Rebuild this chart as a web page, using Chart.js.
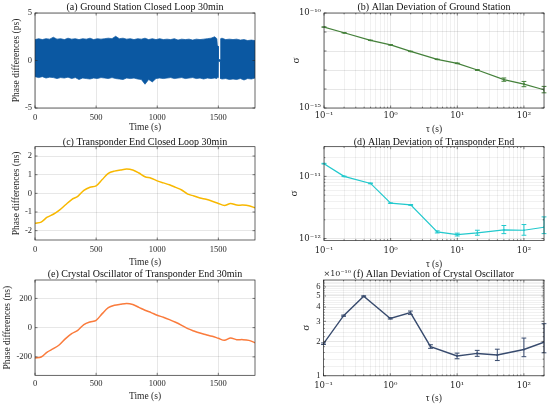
<!DOCTYPE html>
<html><head><meta charset="utf-8">
<script src="https://cdn.jsdelivr.net/npm/chart.js@4.4.1/dist/chart.umd.min.js"></script>
<style>
html,body{margin:0;padding:0;background:#fff;}
#wrap{position:relative;width:550px;height:408px;overflow:hidden;background:#fff;}
#wrap canvas{position:absolute;left:0;top:0;}
</style></head><body>
<div id="wrap">
<canvas id="pa" width="550" height="408"></canvas>
<canvas id="pb" width="550" height="408"></canvas>
<canvas id="pc" width="550" height="408"></canvas>
<canvas id="pd" width="550" height="408"></canvas>
<canvas id="pe" width="550" height="408"></canvas>
<canvas id="pf" width="550" height="408"></canvas>
</div>
<script>
// ---------- data ----------
// (a) ground station phase difference, noise band envelope (ps)
const aTime  = [0,30,60,90,120,150,180,210,240,270,300,330,360,390,420,450,480,510,540,570,600,630,660,690,720,750,780,810,840,870,900,930,960,990,1020,1050,1080,1110,1140,1170,1200,1230,1260,1290,1320,1350,1380,1410,1440,1470,1488,1492,1499,1501,1517,1519,1530,1560,1590,1620,1650,1680,1710,1740,1770,1800];
const aUpper = [2.2,2.3,2.2,2.3,2.25,2.45,2.25,2.3,2.2,2.35,2.25,2.3,2.2,2.3,2.25,2.35,2.2,2.3,2.25,2.3,2.35,2.3,2.55,2.3,2.35,2.25,2.3,2.2,2.3,2.25,2.35,2.2,2.3,2.2,2.3,2.2,2.25,2.2,2.3,2.15,2.25,2.2,2.25,2.15,2.25,2.2,2.25,2.3,2.35,2.5,2.3,1.6,1.5,0.1,0.1,2.3,2.35,2.2,2.25,2.2,2.25,2.15,2.2,2.1,2.15,2.1];
const aLower = [-1.7,-1.8,-1.7,-1.85,-1.75,-1.8,-1.9,-1.8,-1.85,-1.75,-1.9,-1.8,-2.0,-1.85,-1.9,-1.95,-1.85,-1.9,-1.8,-1.85,-1.9,-1.8,-1.9,-1.95,-2.0,-1.85,-1.9,-1.85,-1.95,-2.0,-2.5,-2.0,-2.25,-1.9,-1.85,-1.9,-1.85,-1.8,-1.9,-1.85,-1.8,-1.9,-1.85,-1.8,-1.9,-1.85,-1.95,-1.85,-1.9,-1.85,-1.9,-1.8,-1.8,-0.1,-0.1,-1.9,-1.95,-1.9,-2.0,-1.95,-2.0,-1.9,-2.05,-1.9,-1.95,-1.85];

// (c) transponder end (ns) and (e) crystal oscillator (ns)
const ceTime  = [0,50,100,150,200,250,300,350,400,450,500,550,600,650,700,750,800,850,900,950,1000,1050,1100,1150,1200,1250,1300,1350,1400,1450,1500,1550,1600,1650,1700,1750,1800];
const cValues = [-1.60,-1.54,-1.28,-1.12,-0.90,-0.61,-0.33,-0.16,0.16,0.33,0.40,0.74,1.07,1.19,1.25,1.30,1.25,1.09,0.89,0.81,0.67,0.56,0.46,0.32,0.18,-0.04,-0.14,-0.25,-0.32,-0.42,-0.54,-0.65,-0.54,-0.63,-0.63,-0.67,-0.77];
const eValues = [-208,-201,-167,-144,-117,-75,-41,-18,21,39,50,96,137,153,160,165,158,139,119,103,85,71,55,37,16,-7,-23,-37,-48,-59,-73,-87,-71,-82,-82,-87,-103];

// (b) Allan deviation ground station
const bTau   = [0.1,0.2,0.5,1,2,5,10,20,50,100,200];
const bSigma = [1.82e-11,9.1e-12,3.63e-12,2.09e-12,9.5e-13,3.63e-13,2.24e-13,1.0e-13,3.1e-14,1.82e-14,9.1e-15];
const bLow   = [1.78e-11,8.9e-12,3.56e-12,2.05e-12,9.3e-13,3.55e-13,2.17e-13,9.5e-14,2.55e-14,1.32e-14,6.3e-15];
const bHigh  = [1.86e-11,9.3e-12,3.70e-12,2.13e-12,9.7e-13,3.71e-13,2.31e-13,1.05e-13,3.8e-14,2.5e-14,1.37e-14];

// (d) Allan deviation transponder end
const dTau   = [0.1,0.2,0.5,1,2,5,10,20,50,100,200];
const dSigma = [1.6e-11,1.0e-11,7.7e-12,3.7e-12,3.47e-12,1.28e-12,1.16e-12,1.23e-12,1.38e-12,1.36e-12,1.52e-12];
const dLow   = [1.58e-11,0.99e-11,7.6e-12,3.66e-12,3.42e-12,1.23e-12,1.10e-12,1.13e-12,1.20e-12,1.13e-12,1.20e-12];
const dHigh  = [1.62e-11,1.01e-11,7.8e-12,3.74e-12,3.52e-12,1.33e-12,1.22e-12,1.36e-12,1.62e-12,1.68e-12,2.23e-12];

// (f) Allan deviation crystal oscillator (x1e-10)
const fTau   = [0.1,0.2,0.4,1,2,4,10,20,40,100,200];
const fSigma = [1.91,3.36,4.97,3.18,3.57,1.80,1.49,1.57,1.52,1.70,1.97];
const fLow   = [1.88,3.32,4.92,3.14,3.45,1.74,1.41,1.48,1.36,1.47,1.59];
const fHigh  = [1.94,3.40,5.02,3.22,3.69,1.87,1.58,1.67,1.71,2.14,2.86];

// ticks
const timeTicks = [0,500,1000,1500];
const aYTicks = [-5,0,5];
const cYTicks = [-2,-1,0,1,2];
const eYTicks = [-200,0,200];
const logXMajor = [0.1,1,10,100];
const logXMajorLabels = ['10\u207B\u00B9','10\u2070','10\u00B9','10\u00B2'];
const bYMajor = [1e-15,1e-14,1e-13,1e-12,1e-11,1e-10];
const bYLabels = ['10\u207B\u00B9\u2075','','','','','10\u207B\u00B9\u2070'];
const dYMajor = [1e-12,1e-11];
const dYLabels = ['10\u207B\u00B9\u00B2','10\u207B\u00B9\u00B9'];
const fYMajor = [1,2,3,4,5,6];
const fYLabels = ['1','2','3','4','5','6'];

// ---------- helpers ----------
const FONT = "'Liberation Serif','Times New Roman',serif";
const SUPFONT = "'DejaVu Serif','Liberation Serif',serif";
Chart.defaults.font.family = FONT;
Chart.defaults.color = '#262626';
const W = 550, H = 408;
const GRID_MAJOR = 'rgba(38,38,38,0.16)';
const GRID_MINOR = 'rgba(38,38,38,0.09)';
const meta = {};

function near(a,b){ return Math.abs(a-b) <= 1e-6*Math.max(Math.abs(a),Math.abs(b),1e-300); }
function logTicksFrom(majors, lo, hi){
  const out = [];
  majors.concat([majors[majors.length-1]*10]).forEach(m=>{
    for(let k=1;k<10;k++){ const v=m*k; if(v>=lo*0.999 && v<=hi*1.001) out.push(v); }
  });
  return out;
}
function labelFor(majors, labels){
  return v => { for(let i=0;i<majors.length;i++){ if(near(v,majors[i])) return labels[i]; } return ''; };
}

const deco = {
  id:'deco',
  afterDraw(chart){
    const m = meta[chart.canvas.id];
    const {ctx, chartArea:a} = chart;
    const xs = chart.scales.x, ys = chart.scales.y;
    ctx.save();
    ctx.strokeStyle = '#262626'; ctx.lineWidth = 0.6;
    ctx.beginPath();
    xs.ticks.forEach(t=>{
      const p = xs.getPixelForValue(t.value); if(p<a.left-0.5||p>a.right+0.5) return;
      const L = m.xMajor(t.value) ? 2.5 : 1.3;
      ctx.moveTo(p,a.bottom); ctx.lineTo(p,a.bottom-L);
      ctx.moveTo(p,a.top); ctx.lineTo(p,a.top+L);
    });
    ys.ticks.forEach(t=>{
      const p = ys.getPixelForValue(t.value); if(p<a.top-0.5||p>a.bottom+0.5) return;
      const L = m.yMajor(t.value) ? 2.5 : 1.3;
      ctx.moveTo(a.left,p); ctx.lineTo(a.left+L,p);
      ctx.moveTo(a.right,p); ctx.lineTo(a.right-L,p);
    });
    ctx.stroke();
    ctx.lineWidth = 0.7;
    ctx.strokeRect(a.left, a.top, a.right-a.left, a.bottom-a.top);
    ctx.fillStyle = '#111';
    ctx.font = '10px ' + FONT;
    ctx.textAlign = 'center'; ctx.textBaseline = 'middle';
    ctx.fillText(m.title, (a.left+a.right)/2, m.titleY);
    if(m.extra){
      ctx.font = '8px ' + SUPFONT; ctx.textAlign = 'left'; ctx.fillStyle = '#262626';
      ctx.fillText(m.extra, a.left, m.titleY);
    }
    ctx.restore();
  }
};

const errorBars = {
  id:'errorBars',
  afterDatasetsDraw(chart){
    const {ctx} = chart; const xs = chart.scales.x, ys = chart.scales.y;
    chart.data.datasets.forEach(ds=>{
      if(!ds.errLow) return;
      ctx.save(); ctx.strokeStyle = ds.borderColor; ctx.lineWidth = 1;
      ctx.beginPath();
      ds.data.forEach((p,j)=>{
        const px = xs.getPixelForValue(p.x);
        const y1 = ys.getPixelForValue(ds.errLow[j]), y2 = ys.getPixelForValue(ds.errHigh[j]);
        const cap = 2.4;
        ctx.moveTo(px,y1); ctx.lineTo(px,y2);
        ctx.moveTo(px-cap,y1); ctx.lineTo(px+cap,y1);
        ctx.moveTo(px-cap,y2); ctx.lineTo(px+cap,y2);
      });
      ctx.stroke(); ctx.restore();
    });
  }
};

function pts(xsArr, ysArr){ return xsArr.map((x,i)=>({x:x, y:ysArr[i]})); }

function panel(id, c){
  meta[id] = {title:c.title, titleY:c.titleY, extra:c.extra, xMajor:c.xMajor, yMajor:c.yMajor};
  const b = c.box;
  const xFont = c.xType === 'logarithmic' ? {size:8.5, family:SUPFONT} : {size:8.5};
  const yFont = c.yType === 'logarithmic' && c.yLogLabels ? {size:8.5, family:SUPFONT} : {size:8.5};
  new Chart(document.getElementById(id), {
    type:'line',
    data:{datasets:c.datasets},
    options:{
      responsive:false, animation:false, events:[],
      layout:{padding:{left:0, top:b.T, right:W-b.R, bottom:0}},
      plugins:{legend:{display:false}, tooltip:{enabled:false}},
      elements:{point:{radius:0}},
      scales:{
        x:{
          type:c.xType, min:c.xMin, max:c.xMax,
          afterFit:s=>{ s.height = H - b.B; },
          afterBuildTicks:s=>{ s.ticks = c.xTicks.map(v=>({value:v})); },
          ticks:{autoSkip:false, maxRotation:0, minRotation:0, padding:c.xPad, font:xFont, color:'#262626', callback:c.xLabel},
          grid:{drawTicks:false, lineWidth:0.7, color:ctx=>(ctx.tick && c.xMajor(ctx.tick.value)) ? GRID_MAJOR : GRID_MINOR},
          border:{display:false},
          title:{display:true, text:c.xTitle, font:{size:9.5, lineHeight:1.2}, color:'#262626', padding:{top:0, bottom:H - c.xTitleY - 5.7}}
        },
        y:{
          type:c.yType, min:c.yMin, max:c.yMax,
          afterFit:s=>{ s.width = b.L; },
          afterBuildTicks:s=>{ s.ticks = c.yTicks.map(v=>({value:v})); },
          ticks:{autoSkip:false, padding:3, font:yFont, color:'#262626', callback:c.yLabel},
          grid:{drawTicks:false, lineWidth:0.7, color:ctx=>(ctx.tick && c.yMajor(ctx.tick.value)) ? GRID_MAJOR : GRID_MINOR},
          border:{display:false},
          title:{display:true, text:c.yTitle, font:{size:c.yTitleSize || 9.5, lineHeight:1.2}, color:'#262626', padding:{top:c.yTitleX - (c.yTitleSize || 9.5)*0.6, bottom:0}}
        }
      }
    },
    plugins:[deco, errorBars]
  });
}

const allMajor = () => true;
const decadeMajor = v => { const e = Math.log10(v); return Math.abs(e - Math.round(e)) < 1e-6; };
const intMajor = v => Math.abs(v - Math.round(v)) < 1e-6;
const logXTicks = logTicksFrom(logXMajor, 0.1, 200);

// (a)
panel('pa', {
  title:'(a) Ground Station Closed Loop 30min', titleY:7.5,
  box:{L:35, T:13, R:255, B:108},
  xType:'linear', xMin:0, xMax:1800, xTicks:timeTicks, xLabel:v=>String(v), xMajor:allMajor, xPad:4.5, xTitle:'Time (s)', xTitleY:127.7,
  yType:'linear', yMin:-5, yMax:5, yTicks:aYTicks, yLabel:v=>String(v), yMajor:allMajor, yTitle:'Phase differences (ps)', yTitleX:16,
  datasets:[
    {data:pts(aTime,aUpper), borderColor:'#0b58a2', backgroundColor:'#0b58a2', borderWidth:0.7, fill:'+1', tension:0},
    {data:pts(aTime,aLower), borderColor:'#0b58a2', backgroundColor:'#0b58a2', borderWidth:0.7, fill:false, tension:0}
  ]
});

// (b)
panel('pb', {
  title:'(b) Allan Deviation of Ground Station', titleY:7.5,
  box:{L:324, T:13, R:544, B:108},
  xType:'logarithmic', xMin:0.1, xMax:200, xTicks:logXTicks, xLabel:labelFor(logXMajor, logXMajorLabels), xMajor:decadeMajor, xPad:3, xTitle:'\u03C4 (s)', xTitleY:129,
  yType:'logarithmic', yLogLabels:true, yMin:1e-15, yMax:1e-10, yTicks:bYMajor, yLabel:labelFor(bYMajor, bYLabels), yMajor:decadeMajor, yTitle:'\u03C3', yTitleSize:11, yTitleX:296,
  datasets:[
    {data:pts(bTau,bSigma), errLow:bLow, errHigh:bHigh, borderColor:'#44803a', borderWidth:1.2, fill:false, tension:0, pointRadius:1.2, pointStyle:'rect', pointBackgroundColor:'#44803a', pointBorderWidth:0}
  ]
});

// (c)
panel('pc', {
  title:'(c) Transponder End Closed Loop 30min', titleY:142,
  box:{L:35, T:146.7, R:255, B:240},
  xType:'linear', xMin:0, xMax:1800, xTicks:timeTicks, xLabel:v=>String(v), xMajor:allMajor, xPad:5, xTitle:'Time (s)', xTitleY:262.7,
  yType:'linear', yMin:-2.5, yMax:2.5, yTicks:cYTicks, yLabel:v=>String(v), yMajor:allMajor, yTitle:'Phase differences (ns)', yTitleX:16,
  datasets:[
    {data:pts(ceTime,cValues), borderColor:'#f8b800', borderWidth:1.5, fill:false, tension:0.3}
  ]
});

// (d)
panel('pd', {
  title:'(d) Allan Deviation of Transponder End', titleY:142,
  box:{L:324, T:146.7, R:544, B:240.5},
  xType:'logarithmic', xMin:0.1, xMax:200, xTicks:logXTicks, xLabel:labelFor(logXMajor, logXMajorLabels), xMajor:decadeMajor, xPad:5, xTitle:'\u03C4 (s)', xTitleY:264.3,
  yType:'logarithmic', yLogLabels:true, yMin:0.93e-12, yMax:3e-11, yTicks:logTicksFrom(dYMajor, 0.93e-12, 3e-11), yLabel:labelFor(dYMajor, dYLabels), yMajor:decadeMajor, yTitle:'\u03C3', yTitleSize:11, yTitleX:294,
  datasets:[
    {data:pts(dTau,dSigma), errLow:dLow, errHigh:dHigh, borderColor:'#22c9cd', borderWidth:1.2, fill:false, tension:0, pointRadius:1.2, pointStyle:'rect', pointBackgroundColor:'#22c9cd', pointBorderWidth:0}
  ]
});

// (e)
panel('pe', {
  title:'(e) Crystal Oscillator of Transponder End 30min', titleY:274,
  box:{L:35, T:280, R:255, B:375.3},
  xType:'linear', xMin:0, xMax:1800, xTicks:timeTicks, xLabel:v=>String(v), xMajor:allMajor, xPad:3, xTitle:'Time (s)', xTitleY:396.3,
  yType:'linear', yMin:-326, yMax:326, yTicks:eYTicks, yLabel:v=>String(v), yMajor:allMajor, yTitle:'Phase differences (ns)', yTitleX:7.3,
  datasets:[
    {data:pts(ceTime,eValues), borderColor:'#fa7b3c', borderWidth:1.5, fill:false, tension:0.3}
  ]
});

// (f)
const fYGrid = [1,1.2,1.4,1.6,1.8,2,2.2,2.4,2.6,2.8,3,3.2,3.4,3.6,3.8,4,4.2,4.4,4.6,4.8,5,5.2,5.4,5.6,5.8,6,6.2,6.4,6.6,6.8];
panel('pf', {
  title:'(f) Allan Deviation of Crystal Oscillator', titleY:274, extra:'\u00D710\u207B\u00B9\u2070',
  box:{L:323.5, T:280, R:544, B:375.8},
  xType:'logarithmic', xMin:0.1, xMax:200, xTicks:logXTicks, xLabel:labelFor(logXMajor, logXMajorLabels), xMajor:decadeMajor, xPad:5, xTitle:'\u03C4 (s)', xTitleY:398.7,
  yType:'logarithmic', yMin:1, yMax:6.9, yTicks:fYGrid, yLabel:labelFor(fYMajor, fYLabels), yMajor:intMajor, yTitle:'\u03C3', yTitleSize:11, yTitleX:305.7,
  datasets:[
    {data:pts(fTau,fSigma), errLow:fLow, errHigh:fHigh, borderColor:'#384b6e', borderWidth:1.4, fill:false, tension:0, pointRadius:1.2, pointStyle:'rect', pointBackgroundColor:'#384b6e', pointBorderWidth:0}
  ]
});
</script>
</body></html>
